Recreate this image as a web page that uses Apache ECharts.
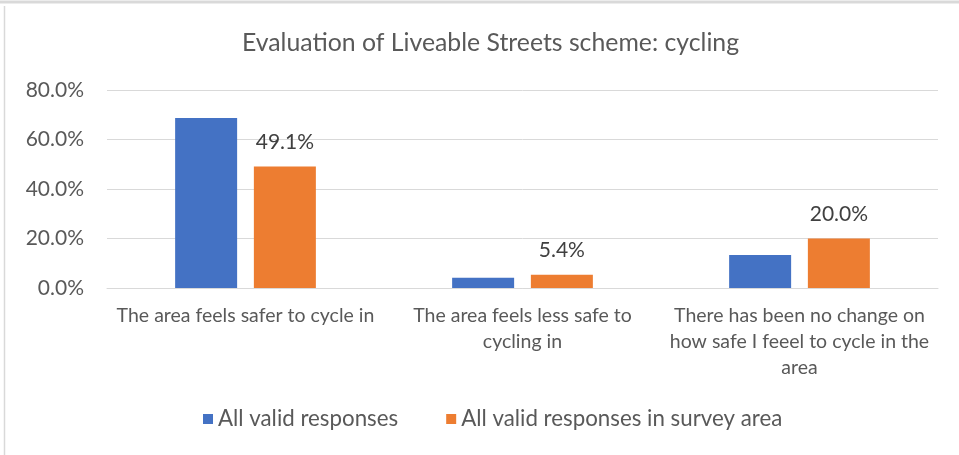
<!DOCTYPE html>
<html>
<head>
<meta charset="utf-8">
<script src="https://cdn.jsdelivr.net/npm/echarts@6/dist/echarts.min.js"></script>
<style>
  html, body { margin: 0; padding: 0; background: #fff; }
  #chart { width: 959px; height: 455px; }
</style>
</head>
<body>
<div id="chart"></div>
<script>
// values (percent)
const categories = [
    'The area feels safer to cycle in',
    'The area feels less safe to\ncycling in',
    'There has been no change on\nhow safe I feeel to cycle in the\narea'
];
const allValid = [68.7, 4.1, 13.3];
const surveyArea = [49.1, 5.4, 20.0];
const seriesNames = ['All valid responses', 'All valid responses in survey area'];
const yTicks = { min: 0, max: 80, interval: 20 };

const font = 'Lato, Carlito, Calibri, "Open Sans", sans-serif';
const grey = '#595959';

const chart = echarts.init(document.getElementById('chart'));

chart.setOption({
    animation: false,
    textStyle: { fontFamily: font },
    title: {
        text: 'Evaluation of Liveable Streets scheme: cycling',
        left: 237,
        top: 26,
        textStyle: { fontFamily: font, fontSize: 24.8, fontWeight: 'normal', color: grey }
    },
    legend: {
        data: seriesNames,
        top: 408,
        left: 203,
        padding: 0,
        icon: 'rect',
        itemWidth: 10,
        itemHeight: 10,
        itemGap: 48,
        textStyle: { fontFamily: font, fontSize: 22.3, color: grey }
    },
    grid: { left: 107, right: 21, top: 90, bottom: 167 },
    xAxis: {
        type: 'category',
        data: categories,
        axisTick: { show: false },
        axisLine: { lineStyle: { color: '#d9d9d9', width: 1 } },
        axisLabel: {
            color: grey, fontFamily: font, fontSize: 19.5,
            lineHeight: 26, margin: 15, interval: 0, align: 'center'
        }
    },
    yAxis: {
        type: 'value',
        min: yTicks.min,
        max: yTicks.max,
        interval: yTicks.interval,
        axisLine: { show: false },
        axisTick: { show: false },
        splitLine: { lineStyle: { color: '#d9d9d9', width: 1 } },
        axisLabel: {
            color: grey, fontFamily: font, fontSize: 21, margin: 23,
            formatter: v => v.toFixed(1) + '%'
        }
    },
    series: [
        {
            name: seriesNames[0],
            type: 'bar',
            data: allValid,
            barWidth: 62,
            barGap: '27%',
            itemStyle: { color: '#4472C4' }
        },
        {
            name: seriesNames[1],
            type: 'bar',
            data: surveyArea,
            barWidth: 62,
            itemStyle: { color: '#ED7D31' },
            label: {
                show: true,
                position: 'top',
                distance: 14,
                color: '#404040',
                fontFamily: font,
                fontSize: 21,
                formatter: p => p.value.toFixed(1) + '%'
            }
        }
    ],
    graphic: [
        {
            type: 'line',
            shape: { x1: 0, y1: 2, x2: 959, y2: 2 },
            style: { stroke: '#d9d9d9', lineWidth: 3 }
        },
        {
            type: 'line',
            shape: { x1: 4.5, y1: 6, x2: 4.5, y2: 455 },
            style: { stroke: '#d9d9d9', lineWidth: 1.5 }
        }
    ]
});
</script>
</body>
</html>
